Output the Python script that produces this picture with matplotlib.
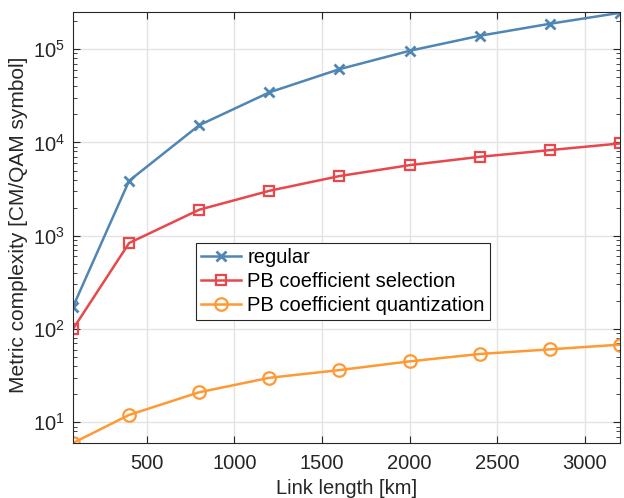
import matplotlib
matplotlib.use("Agg")
import matplotlib.pyplot as plt
from matplotlib.ticker import LogLocator, NullFormatter

link_km = [80, 400, 800, 1200, 1600, 2000, 2400, 2800, 3200]
regular = [173, 3880, 15300, 34400, 61000, 96000, 139000, 187000, 245000]
pb_selection = [100, 835, 1900, 3030, 4360, 5710, 7010, 8270, 9750]
pb_quantization = [6, 12, 21, 30, 36.3, 45, 54, 60.5, 68]
labels = ["regular", "PB coefficient selection", "PB coefficient quantization"]
x_ticks = [500, 1000, 1500, 2000, 2500, 3000]

plt.rcParams['font.family'] = ['Liberation Sans', 'DejaVu Sans']
plt.rcParams['mathtext.fontset'] = 'custom'
plt.rcParams['mathtext.rm'] = 'Liberation Sans'
plt.rcParams['mathtext.it'] = 'Liberation Sans'

fig = plt.figure(figsize=(6.24, 4.98), dpi=100)
ax = fig.add_axes([73/624, 55/498, 547/624, 431/498])

c_blue = '#4f86b4'
c_red = '#e8474b'
c_orange = '#ff9933'

ax.plot(link_km, regular, '-x', color=c_blue, lw=1.8, ms=7, mew=2, label=labels[0])
ax.plot(link_km, pb_selection, '-s', color=c_red, lw=1.8, ms=7, mew=1.6, mfc='none', label=labels[1])
ax.plot(link_km, pb_quantization, '-o', color=c_orange, lw=1.8, ms=9, mew=1.6, mfc='none', label=labels[2])

ax.set_yscale('log')
ax.set_xlim(80, 3200)
ax.set_ylim(6, 2.5e5)
ax.set_xticks(x_ticks)
ax.yaxis.set_major_locator(LogLocator(base=10, numticks=10))
ax.yaxis.set_minor_locator(LogLocator(base=10, subs=range(2, 10), numticks=20))
ax.yaxis.set_minor_formatter(NullFormatter())

ax.grid(True, which='major', color='#e3e3e3', lw=1)
ax.set_axisbelow(True)
ax.tick_params(which='both', direction='in', top=True, right=True, labelsize=14.5, colors='#262626')
ax.tick_params(axis='x', which='major', pad=8)
ax.tick_params(axis='y', which='major', pad=6)
ax.tick_params(which='major', length=5)
ax.tick_params(which='minor', length=3)
for s in ax.spines.values():
    s.set_color('#262626')
    s.set_linewidth(0.8)

ax.set_xlabel('Link length [km]', fontsize=14.5, color='#262626', labelpad=4.5)
ax.set_ylabel('Metric complexity [CM/QAM symbol]', fontsize=15, color='#262626')
ax.yaxis.set_label_coords(-45/547, 0.506)

leg = ax.legend(loc='upper left', bbox_to_anchor=((196-73)/547, (443-243)/431), fontsize=14.5,
                frameon=True, fancybox=False, framealpha=1, edgecolor='#262626',
                borderpad=0.25, labelspacing=0.25, handlelength=2.0, handletextpad=0.3, borderaxespad=0)
leg.get_frame().set_linewidth(0.8)

fig.savefig('out.png', dpi=100)
